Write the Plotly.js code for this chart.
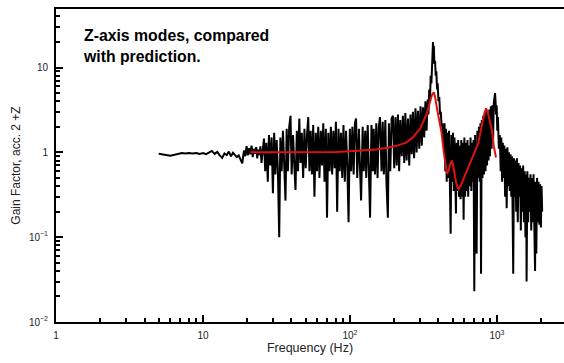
<!DOCTYPE html>
<html><head><meta charset="utf-8">
<script src="https://cdn.plot.ly/plotly-3.0.1.min.js"></script>
<style>html,body{margin:0;padding:0;background:#fff}#chart{width:564px;height:363px}</style>
</head><body><div id="chart"></div>
<script>
// Measured gain factor (black)
const measuredFreq = [
 5.0,5.3,5.6,6.0,6.4,6.8,7.2,7.6,8.0,8.5,9.0,9.5,10.0,10.5,11.0,11.5,12.0,12.5,13.0,13.5,
 14.0,14.5,15.0,15.5,16.0,16.5,17.0,17.5,18.0,18.5,19.0,19.4,19.8,20.2,20.6,21.0,21.4,21.8,22.2,22.6,
 23.0,23.4,23.8,24.2,24.6,25.0,
 26,26.5,27,27.6,28.1,28.7,29.3,29.9,30.5,31.1,31.7,32.3,33,33.6,34.3,35,35.7,36.4,37.1,37.8,
 38.6,39.4,40.1,41,41.8,42.6,43.5,44.3,45.2,46.1,47,48,49,50,51,52,53,54,55.1,56.2,
 57.3,58.5,59.6,60.8,62,63.3,64.5,65.8,67.1,68.5,69.8,71.2,72.7,74.1,75.6,77.1,78.7,80.2,81.8,83.5,
 85.1,86.8,88.6,90.3,92.2,94,95.9,97.8,99.8,101.8,103.8,105.9,108,110,112,115,117,119,122,124,
 127,129,132,134,137,140,143,145,148,151,154,157,160,164,167,170,174,177,181,184,188,192,196,200,
 204,208,212,216,220,225,229,234,238,243,248,253,258,263,268,273,279,284,290,296,302,308,314,320,326,332,
 338,342,346,350,354,358,362,365,367,369,372,375,379,383,387,391,395,400,405,410,415,420,425,430,
 435,440,445,450,455,461,466,472,478,484,490,496,502,508,514,520,526,532,539,545,
 552,558,565,572,579,586,593,600,607,615,622,630,637,645,653,661,669,677,685,693,
 701,710,718,727,736,745,754,763,772,779,788,797,807,816,826,836,846,856,866,876,
 887,897,908,919,930,941,952,
 962,970,978,985,995,1005,1015,1030,1045,1060,
 1070,1083,1096,1109,1122,1136,1150,1164,1178,1192,1206,1221,1236,1251,1266,1281,1290,1305,1320,1336,
 1352,1368,1385,1402,1419,1436,1453,1471,1489,1507,1525,1544,1562,1581,1590,1610,1630,1650,1670,1690,
 1710,1731,1752,1773,1795,1816,1830,1852,1874,1897,1920,1943,1966,1990,2010,2030
];
const measuredGain = [
 0.96,0.95,0.93,0.91,0.94,0.97,0.98,0.97,0.98,0.97,0.98,0.96,0.98,0.95,0.99,1.04,0.96,1.01,0.92,0.86,
 0.97,0.93,1.02,0.90,0.99,0.94,0.88,0.92,0.80,0.74,1.05,0.90,1.18,0.92,1.12,0.95,1.20,0.88,1.10,0.96,
 1.15,0.85,1.08,0.93,1.18,0.75,
 1.45,0.6,1.3,0.45,1.6,0.7,1.5,0.33,1.7,0.55,1.4,0.65,0.10,1.5,0.6,1.8,0.7,0.27,1.9,0.6,
 2.0,2.7,0.55,1.6,0.7,0.36,1.8,0.6,2.5,0.75,1.7,0.5,1.9,0.65,1.6,2.6,0.6,1.8,0.55,2.1,
 0.3,1.7,0.6,2.0,0.5,1.8,0.7,2.2,0.45,1.9,0.17,1.7,0.6,2.0,0.55,1.8,0.65,2.3,0.2,1.9,
 0.6,1.7,0.5,2.1,0.45,1.8,0.7,0.15,1.9,0.6,2.0,0.55,2.2,2.5,0.5,1.9,0.65,0.27,2.0,0.6,
 1.8,0.5,2.1,0.7,0.17,2.1,0.6,1.9,0.55,2.2,0.5,2.0,2.6,0.6,2.3,0.55,2.4,0.45,0.17,2.2,0.6,2.5,2.7,0.65,
 2.6,0.7,2.8,0.6,2.4,0.9,2.7,0.75,2.9,0.8,2.5,0.7,2.8,0.95,3.0,0.85,3.3,1.0,3.1,1.1,3.5,1.2,3.4,1.5,4.0,1.8,
 4.2,2.8,5.5,4.0,8,6.5,13,17,20,15,18,11,12,8,9,5.5,6.5,4,4.5,2.8,3.0,2.0,2.2,1.5,
 1.2,2.2,0.6,1.9,0.45,1.7,0.5,1.8,0.4,0.11,1.6,0.45,1.7,0.35,1.5,0.4,0.19,1.3,0.35,1.4,
 0.3,1.2,0.28,1.4,0.3,1.3,0.16,1.5,0.3,1.3,0.35,1.4,0.3,1.2,0.4,1.5,0.35,1.3,0.45,1.4,
 0.023,1.6,0.4,0.064,1.8,0.5,2.0,0.45,2.2,0.037,2.4,0.5,2.7,0.55,3.0,0.6,3.2,0.7,3.0,0.8,
 3.2,0.9,3.5,1.1,3.6,1.4,3.8,
 4.2,5.0,4.0,2.8,3.6,1.8,2.6,1.1,1.6,0.6,
 1.5,0.45,1.3,0.5,1.2,0.3,1.1,0.22,1.15,0.4,1.0,0.35,0.95,0.3,0.9,0.25,0.037,0.85,0.3,0.8,
 0.2,0.85,0.15,0.75,0.3,0.7,0.12,0.65,0.2,0.7,0.15,0.6,0.1,0.55,0.03,0.6,0.15,0.5,0.2,0.55,
 0.12,0.5,0.15,0.55,0.1,0.04,0.45,0.064,0.5,0.15,0.45,0.14,0.42,0.13,0.4,0.2
];
// Predicted gain factor (red)
const predictedFreq = [21,25,30,40,50,60,80,100,120,150,180,210,240,268,300,320,334,350,362,372,
 380,392,405,420,435,447,457,468,480,494,505,520,535,548,565,590,620,655,700,746,
 780,810,842,865,890,910,925,950,985];
const predictedGain = [1.0,1.0,0.99,1.0,1.0,1.0,1.01,1.03,1.05,1.08,1.13,1.2,1.3,1.5,1.9,2.4,2.9,3.9,4.8,5.1,
 4.4,3.2,2.3,1.7,1.0,0.68,0.56,0.6,0.72,0.8,0.68,0.5,0.4,0.37,0.4,0.48,0.6,0.74,0.98,1.28,
 1.9,2.6,3.3,3.0,2.4,2.0,1.8,1.2,0.87];

const xTickVals = [1,10,100,1000];
const xTickText = ['1','10','10<sup>2</sup>','10<sup>3</sup>'];
const yTickVals = [0.01,0.1,1,10];
const yTickText = ['10<sup>\u22122</sup>','10<sup>\u22121</sup>','1','10'];

function minorTicks(decades){
  const out=[];
  decades.forEach(d=>{for(let k=2;k<=9;k++) out.push(k*d);});
  return out;
}
const xMinor = minorTicks([1,10,100,1000]);
const yMinor = minorTicks([0.01,0.1,1,10]);
const X_RANGE = [0,3.456];
const Y_RANGE = [-2,1.69];

const FONT = 'Liberation Sans, Arial, Helvetica, sans-serif';

const traces = [
 {x:measuredFreq, y:measuredGain, type:'scatter', mode:'lines', line:{color:'#000', width:2}, hoverinfo:'skip'},
 {x:predictedFreq, y:predictedGain, type:'scatter', mode:'lines', line:{color:'#e01010', width:2}, hoverinfo:'skip'},
 {x:[], y:[], type:'scatter', mode:'lines', xaxis:'x2', yaxis:'y2', hoverinfo:'skip'}
];

const axisCommon = {
  type:'log', showgrid:false, zeroline:false,
  ticks:'inside', tickcolor:'#000', tickmode:'array',
  tickfont:{family:FONT, size:10, color:'#222'}
};

const layout = {
  width:564, height:363,
  margin:{l:56, r:0, t:9, b:41, pad:0},
  paper_bgcolor:'#fff', plot_bgcolor:'#fff',
  showlegend:false,
  font:{family:FONT, color:'#222', size:10},
  xaxis:Object.assign({}, axisCommon, {
    range:X_RANGE, showline:true, linewidth:2, linecolor:'#000', mirror:true,
    ticklen:7, tickwidth:2, tickvals:xTickVals, ticktext:xTickText, ticklabelstandoff:3,
    title:{text:'Frequency (Hz)', font:{family:FONT, size:12.5, color:'#222'}, standoff:2}
  }),
  yaxis:Object.assign({}, axisCommon, {
    range:Y_RANGE, showline:true, linewidth:2, linecolor:'#000',
    ticklen:7, tickwidth:2, tickvals:yTickVals, ticktext:yTickText, ticklabelstandoff:4,
    title:{text:'Gain Factor, acc. 2 +Z', font:{family:FONT, size:12, color:'#222'}, standoff:6}
  }),
  xaxis2:Object.assign({}, axisCommon, {
    range:X_RANGE, overlaying:'x', anchor:'y2', side:'bottom', showline:false,
    ticklen:4, tickwidth:2, tickvals:xMinor, showticklabels:false
  }),
  yaxis2:Object.assign({}, axisCommon, {
    range:Y_RANGE, overlaying:'y', anchor:'x2', side:'left', showline:false,
    ticklen:4, tickwidth:2, tickvals:yMinor, showticklabels:false
  }),
  annotations:[{
    xref:'paper', yref:'paper', x:0.05, y:0.948, xanchor:'left', yanchor:'top', align:'left',
    showarrow:false, text:'<b>Z-axis modes, compared<br>with prediction.</b>',
    font:{family:FONT, size:15.8, color:'#000'}
  }]
};

Plotly.newPlot('chart', traces, layout, {staticPlot:true, displayModeBar:false});
</script>
</body></html>
